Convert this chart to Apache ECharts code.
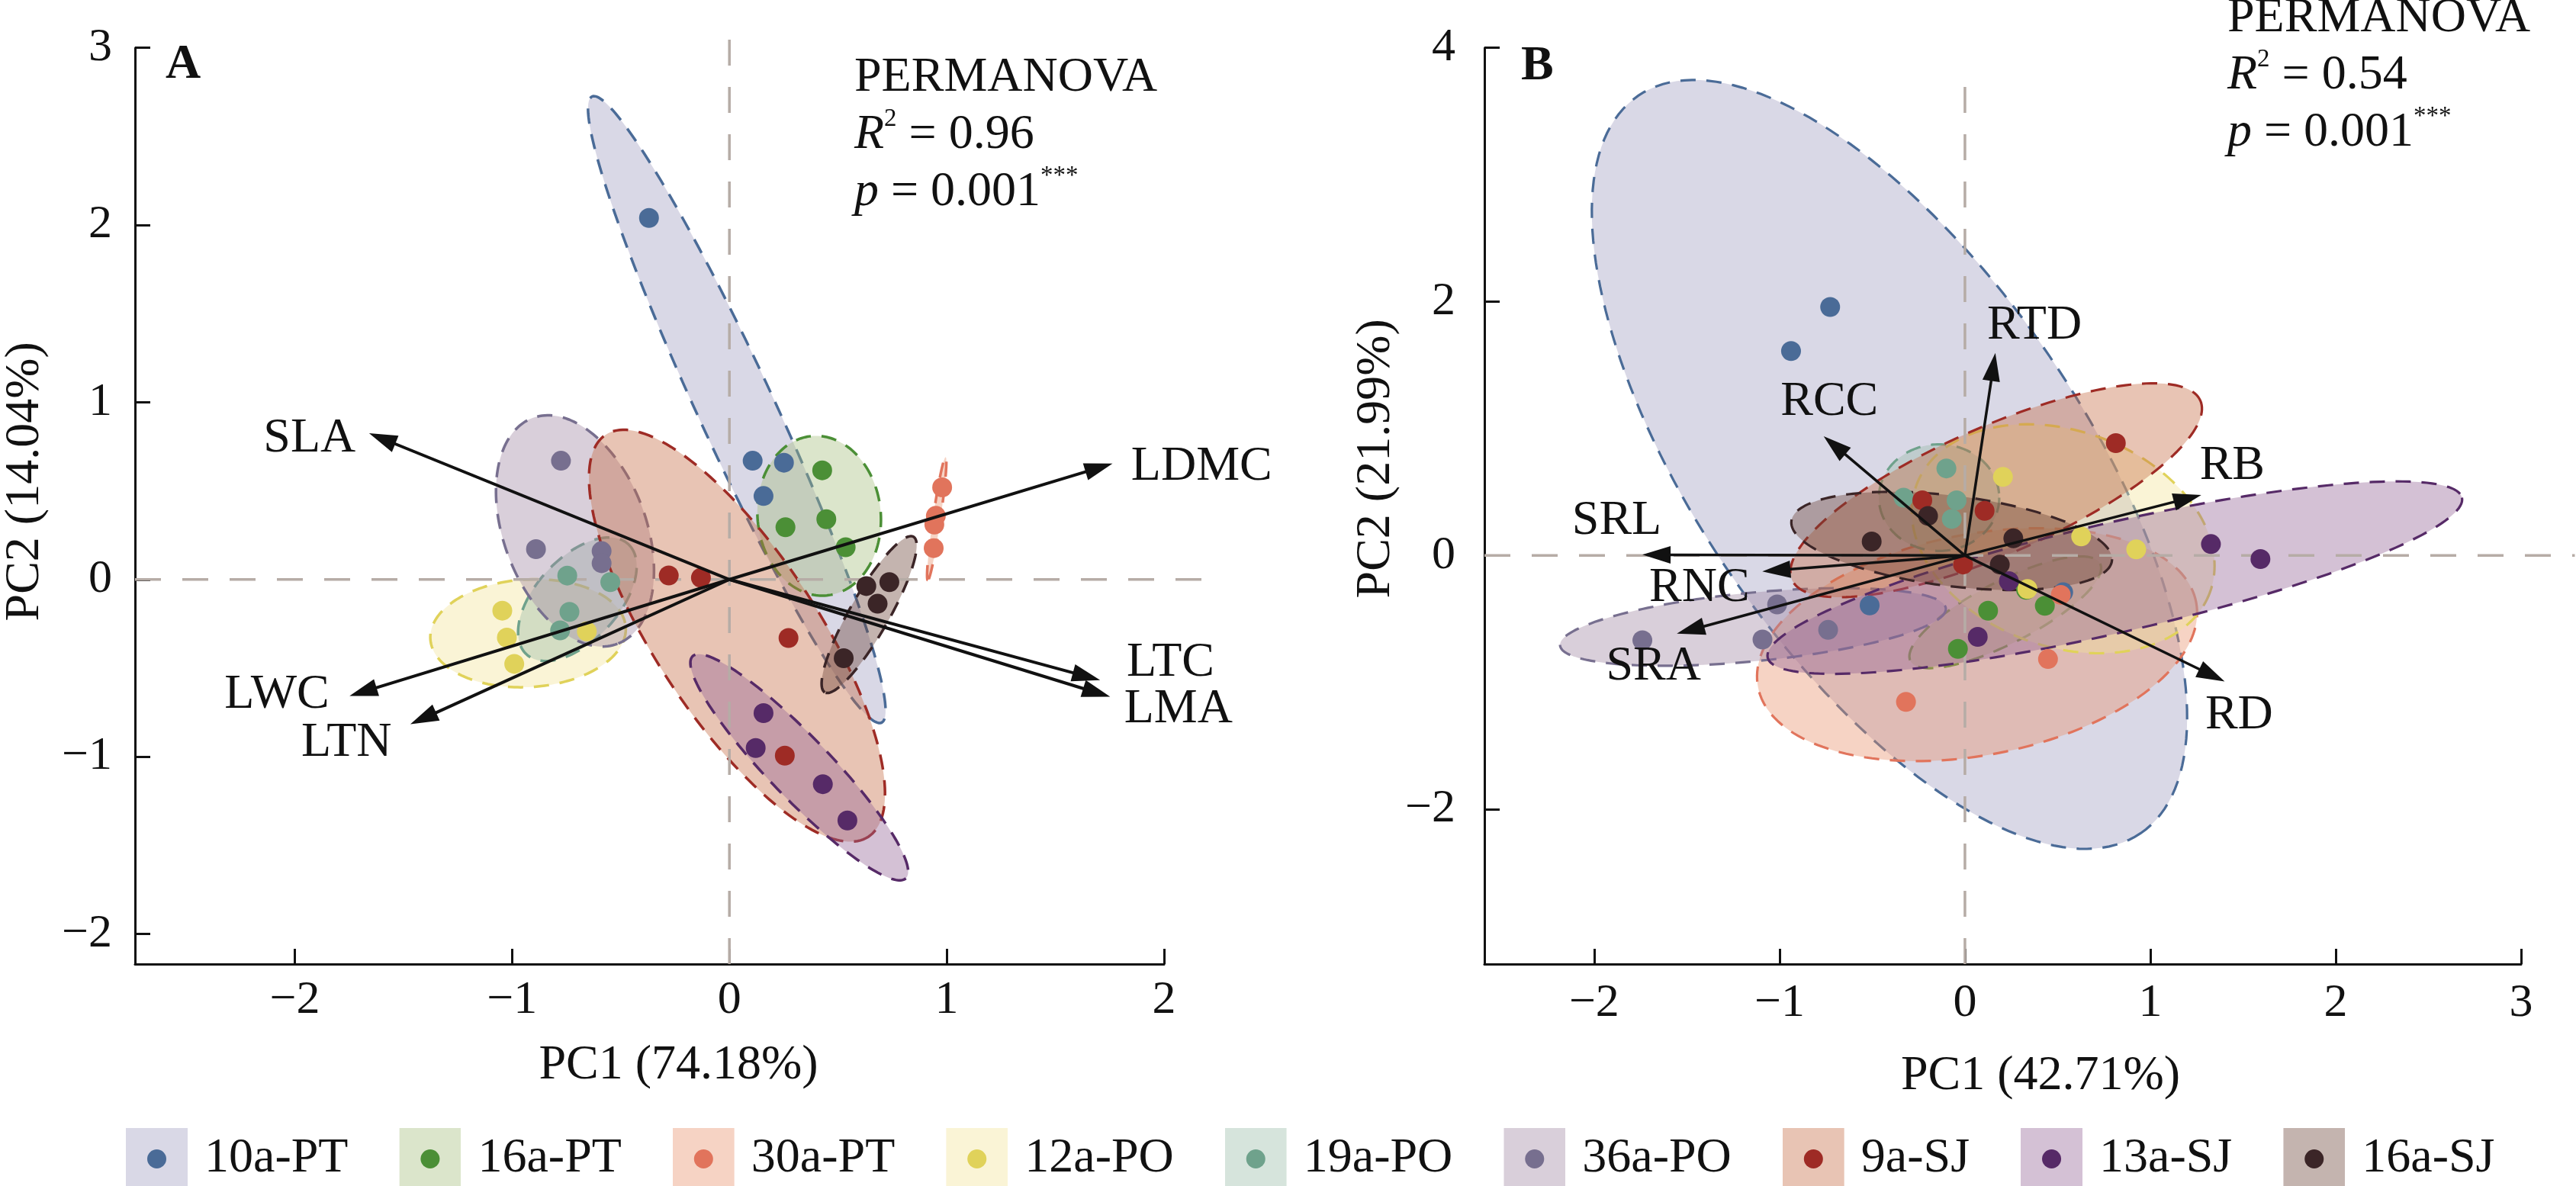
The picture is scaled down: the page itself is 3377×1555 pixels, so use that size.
<!DOCTYPE html>
<html>
<head>
<meta charset="utf-8">
<script src="https://cdn.jsdelivr.net/npm/echarts@6/dist/echarts.min.js"></script>
<style>
html, body { margin: 0; padding: 0; background: #fff; }
#main { width: 3377px; height: 1555px; }
</style>
</head>
<body>
<div id="main"></div>
<script>
// Groups (stand age - forest type)
var groups = ['10a-PT', '16a-PT', '30a-PT', '12a-PO', '19a-PO', '36a-PO', '9a-SJ', '13a-SJ', '16a-SJ'];

// Panel A scores: [PC1, PC2, group index]
var scoresA = [
    [-0.37, 2.04, 0], [0.107, 0.67, 0], [0.251, 0.659, 0], [0.157, 0.471, 0],
    [0.427, 0.616, 1], [0.446, 0.34, 1], [0.258, 0.295, 1], [0.535, 0.182, 1],
    [0.979, 0.52, 2], [0.95, 0.359, 2], [0.943, 0.31, 2], [0.94, 0.177, 2],
    [-1.045, -0.176, 3], [-1.024, -0.328, 3], [-0.99, -0.476, 3], [-0.656, -0.293, 3],
    [-0.746, 0.022, 4], [-0.548, -0.015, 4], [-0.736, -0.183, 4], [-0.779, -0.287, 4],
    [-0.775, 0.67, 5], [-0.89, 0.171, 5], [-0.588, 0.16, 5], [-0.588, 0.092, 5],
    [-0.279, 0.023, 6], [-0.131, 0.01, 6], [0.272, -0.33, 6], [0.255, -0.994, 6],
    [0.157, -0.754, 7], [0.121, -0.951, 7], [0.43, -1.155, 7], [0.543, -1.36, 7],
    [0.63, -0.037, 8], [0.736, -0.015, 8], [0.682, -0.137, 8], [0.526, -0.444, 8]
];

// Panel B scores: [PC1, PC2, group index]
var scoresB = [
    [-0.727, 1.958, 0], [-0.938, 1.611, 0], [-0.514, -0.393, 0], [0.53, -0.29, 0],
    [0.125, -0.435, 1], [-0.038, -0.736, 1], [0.431, -0.396, 1], [0.33, -0.27, 1],
    [-0.318, -1.153, 2], [0.448, -0.816, 2], [0.517, -0.31, 2],
    [0.205, 0.619, 3], [0.627, 0.15, 3], [0.924, 0.048, 3], [0.337, -0.264, 3],
    [-0.1, 0.686, 4], [-0.331, 0.456, 4], [-0.045, 0.435, 4], [-0.071, 0.288, 4],
    [-1.74, -0.668, 5], [-1.092, -0.662, 5], [-1.013, -0.386, 5], [-0.738, -0.586, 5],
    [-0.23, 0.435, 6], [0.106, 0.352, 6], [-0.01, -0.071, 6], [0.814, 0.885, 6],
    [1.327, 0.09, 7], [1.594, -0.028, 7], [0.237, -0.202, 7], [0.069, -0.641, 7],
    [-0.503, 0.11, 8], [-0.199, 0.312, 8], [0.261, 0.135, 8], [0.188, -0.071, 8]
];

// Confidence ellipses, one per group: [end1 PC1, end1 PC2, end2 PC1, end2 PC2, minor/major]
var ellipsesA = [
    [-0.632, 2.725, 0.70, -0.808, 0.11],
    [0.378, 0.809, 0.448, -0.09, 0.77],
    [0.995, 0.69, 0.913, -0.004, 0.06],
    [-1.376, -0.336, -0.477, -0.271, 0.55],
    [-0.934, -0.422, -0.465, 0.199, 0.55],
    [-0.906, 0.911, -0.515, -0.363, 0.59],
    [-0.569, 0.817, 0.639, -1.452, 0.34],
    [-0.169, -0.433, 0.812, -1.686, 0.2],
    [0.847, 0.241, 0.439, -0.637, 0.22]
];
var ellipsesB = [
    [-1.762, 3.623, 0.948, -2.188, 0.433],
    [-0.294, -0.831, 0.729, -0.064, 0.29],
    [-1.116, -1.038, 1.247, -0.367, 0.495],
    [-0.262, 0.553, 1.322, -0.289, 0.69],
    [-0.464, 0.456, 0.185, 0.456, 0.886],
    [-2.184, -0.709, -0.103, -0.417, 0.177],
    [-0.933, -0.192, 1.27, 1.22, 0.286],
    [-1.064, -0.805, 2.681, 0.456, 0.154],
    [-0.936, 0.272, 0.793, -0.042, 0.28]
];

// Trait loadings (arrow tips) and label anchors
var traitsA = ['SLA', 'LDMC', 'LTC', 'LMA', 'LWC', 'LTN'];
var loadXA = [-1.658, 1.763, 1.706, 1.752, -1.748, -1.468];
var loadYA = [0.825, 0.654, -0.568, -0.662, -0.657, -0.817];
var labelXA = [-1.932, 2.173, 2.03, 2.066, -2.082, -1.762];
var labelYA = [0.796, 0.637, -0.473, -0.732, -0.65, -0.921];

var traitsB = ['RTD', 'RCC', 'SRL', 'RNC', 'SRA', 'RB', 'RD'];
var loadXB = [0.164, -0.762, -1.74, -1.093, -1.554, 1.275, 1.401];
var loadYB = [1.596, 0.94, 0.006, -0.126, -0.616, 0.477, -0.993];
var labelXB = [0.375, -0.731, -1.878, -1.432, -1.68, 1.442, 1.479];
var labelYB = [1.81, 1.207, 0.273, -0.255, -0.877, 0.703, -1.261];

// Axis ticks
var ticksAx = [-2, -1, 0, 1, 2];
var ticksAy = [-2, -1, 0, 1, 2, 3];
var ticksBx = [-2, -1, 0, 1, 2, 3];
var ticksBy = [-2, 0, 2, 4];

// PERMANOVA results
var statsA = ['0.96', '0.001'];
var statsB = ['0.54', '0.001'];

// Colours
var pointColors = ['#4a6b97', '#4b8f36', '#e1745c', '#e0d25a', '#6fa28c', '#776f8f', '#9e2b25', '#562a67', '#3b2527'];
var keyColors = ['#d9d8e6', '#dbe5cb', '#f6d3c4', '#faf4d6', '#d6e4dc', '#d9cfda', '#e8c4b4', '#d4c1d5', '#c4b4af'];

var FONT = 'Liberation Serif';
var INK = '#111111';

function hexRgb(h) {
    return [parseInt(h.slice(1, 3), 16), parseInt(h.slice(3, 5), 16), parseInt(h.slice(5, 7), 16)];
}

// translucent fill that looks like the key colour on white
function veil(h, a) {
    var c = hexRgb(h).map(function (v) {
        return Math.max(0, Math.round(255 - (255 - v) / a));
    });
    return 'rgba(' + c.join(',') + ',' + a + ')';
}

function keyIcon(i) {
    var svg = '<svg xmlns="http://www.w3.org/2000/svg" width="81" height="81" viewBox="0 0 81 81">' +
        '<rect width="81" height="81" fill="' + keyColors[i] + '"/>' +
        '<circle cx="40.5" cy="40.5" r="12.5" fill="' + pointColors[i] + '"/></svg>';
    return 'image://data:image/svg+xml;charset=utf-8,' + encodeURIComponent(svg);
}

function fmtTick(v) {
    return v < 0 ? '\u2212' + Math.abs(v) : String(v);
}

function makeAxis(idx, min, max, ticks, margin, name, gap, pad) {
    return {
        type: 'value',
        gridIndex: idx,
        min: min,
        max: max,
        name: name,
        nameLocation: 'middle',
        nameGap: gap,
        nameTextStyle: { fontFamily: FONT, fontSize: 64, color: INK, padding: pad },
        axisLine: { show: true, onZero: false, lineStyle: { color: INK, width: 3 } },
        axisTick: { show: true, inside: true, length: 20, customValues: ticks, lineStyle: { color: INK, width: 3 } },
        axisLabel: {
            customValues: ticks,
            margin: margin,
            fontFamily: FONT,
            fontSize: 62,
            color: INK,
            formatter: fmtTick
        },
        splitLine: { show: false }
    };
}

function ellipseSeries(ells, axis, gi, lw) {
    return {
        type: 'custom',
        name: groups[gi],
        xAxisIndex: axis,
        yAxisIndex: axis,
        z: 2,
        silent: true,
        data: [ells[gi]],
        renderItem: function (params, api) {
            var p1 = api.coord([api.value(0), api.value(1)]);
            var p2 = api.coord([api.value(2), api.value(3)]);
            var r = api.value(4);
            var cx = (p1[0] + p2[0]) / 2, cy = (p1[1] + p2[1]) / 2;
            var dx = (p2[0] - p1[0]) / 2, dy = (p2[1] - p1[1]) / 2;
            var pts = [];
            for (var k = 0; k < 180; k++) {
                var t = 2 * Math.PI * k / 180;
                pts.push([cx + dx * Math.cos(t) - dy * r * Math.sin(t),
                          cy + dy * Math.cos(t) + dx * r * Math.sin(t)]);
            }
            return {
                type: 'polygon',
                shape: { points: pts },
                style: {
                    fill: veil(keyColors[gi], 0.4),
                    stroke: pointColors[gi],
                    lineWidth: lw,
                    lineDash: [20, 14]
                }
            };
        }
    };
}

function zeroLines(axis, xr, yr) {
    return {
        type: 'custom',
        xAxisIndex: axis,
        yAxisIndex: axis,
        z: 3,
        silent: true,
        clip: false,
        data: [[xr[0], xr[1], yr[0], yr[1]]],
        renderItem: function (params, api) {
            var h1 = api.coord([api.value(0), 0]), h2 = api.coord([api.value(1), 0]);
            var v1 = api.coord([0, api.value(2)]), v2 = api.coord([0, api.value(3)]);
            var st = { stroke: '#b6aca6', lineWidth: 3.5, lineDash: [34, 28] };
            return {
                type: 'group',
                children: [
                    { type: 'line', shape: { x1: h1[0], y1: h1[1], x2: h2[0], y2: h2[1] }, style: st },
                    { type: 'line', shape: { x1: v1[0], y1: v1[1], x2: v2[0], y2: v2[1] }, style: st }
                ]
            };
        }
    };
}

function pointSeries(scores, axis, gi) {
    return {
        type: 'scatter',
        name: groups[gi],
        xAxisIndex: axis,
        yAxisIndex: axis,
        z: 5,
        silent: true,
        symbol: 'circle',
        symbolSize: 26,
        itemStyle: { color: pointColors[gi], opacity: 1 },
        data: scores.filter(function (r) { return r[2] === gi; }).map(function (r) { return [r[0], r[1]]; })
    };
}

function arrowSeries(xs, ys, axis, lw) {
    return {
        type: 'custom',
        xAxisIndex: axis,
        yAxisIndex: axis,
        z: 6,
        silent: true,
        clip: false,
        data: xs.map(function (x, i) { return [x, ys[i]]; }),
        renderItem: function (params, api) {
            var o = api.coord([0, 0]);
            var t = api.coord([api.value(0), api.value(1)]);
            var dx = t[0] - o[0], dy = t[1] - o[1];
            var len = Math.sqrt(dx * dx + dy * dy);
            var ux = dx / len, uy = dy / len;
            var hl = 37, hw = 11.5;
            var bx = t[0] - ux * hl, by = t[1] - uy * hl;
            return {
                type: 'group',
                children: [
                    { type: 'line', shape: { x1: o[0], y1: o[1], x2: bx + ux * 6, y2: by + uy * 6 },
                      style: { stroke: INK, lineWidth: lw } },
                    { type: 'polygon',
                      shape: { points: [[t[0], t[1]], [bx - uy * hw, by + ux * hw], [bx + uy * hw, by - ux * hw]] },
                      style: { fill: INK } }
                ]
            };
        }
    };
}

function labelSeries(names, xs, ys, axis) {
    return {
        type: 'custom',
        xAxisIndex: axis,
        yAxisIndex: axis,
        z: 7,
        silent: true,
        clip: false,
        data: xs.map(function (x, i) { return [x, ys[i]]; }),
        renderItem: function (params, api) {
            var p = api.coord([api.value(0), api.value(1)]);
            return {
                type: 'text',
                x: p[0],
                y: p[1],
                style: {
                    text: names[params.dataIndex],
                    fill: INK,
                    font: '64px ' + FONT,
                    align: 'center',
                    verticalAlign: 'middle'
                }
            };
        }
    };
}

function statsText(x, y, s) {
    return {
        type: 'text',
        x: x,
        y: y,
        z: 10,
        style: {
            text: '{a|PERMANOVA}\n{i|R}{s|2}{a| = ' + s[0] + '}\n{i|p}{a| = ' + s[1] + '}{s|***}',
            fill: INK,
            align: 'left',
            verticalAlign: 'top',
            rich: {
                a: { fontFamily: FONT, fontSize: 64, lineHeight: 75, fill: INK },
                i: { fontFamily: FONT, fontSize: 64, lineHeight: 75, fontStyle: 'italic', fill: INK },
                s: { fontFamily: FONT, fontSize: 33, lineHeight: 56, verticalAlign: 'top', fill: INK }
            }
        }
    };
}

var series = [];
groups.forEach(function (g, gi) { series.push(ellipseSeries(ellipsesA, 0, gi, 3.5)); });
groups.forEach(function (g, gi) { series.push(ellipseSeries(ellipsesB, 1, gi, 3.2)); });
series.push(zeroLines(0, [-2.735, 2.237], [-2.17, 3.134]));
series.push(zeroLines(1, [-2.592, 3.29], [-3.219, 3.8]));
groups.forEach(function (g, gi) { series.push(pointSeries(scoresA, 0, gi)); });
groups.forEach(function (g, gi) { series.push(pointSeries(scoresB, 1, gi)); });
series.push(arrowSeries(loadXA, loadYA, 0, 4));
series.push(arrowSeries(loadXB, loadYB, 1, 3.5));
series.push(labelSeries(traitsA, labelXA, labelYA, 0));
series.push(labelSeries(traitsB, labelXB, labelYB, 1));

var chart = echarts.init(document.getElementById('main'));

var option = {
    animation: false,
    backgroundColor: '#ffffff',
    textStyle: { fontFamily: FONT },
    grid: [
        { left: 171, top: 62.7, width: 1355, height: 1201.3 },
        { left: 1946, top: 62.7, width: 1359, height: 1201.3 }
    ],
    xAxis: [
        makeAxis(0, -2.735, 2, ticksAx, 17, 'PC1 (74.18%)', 101, [0, 0, 0, 76]),
        makeAxis(1, -2.592, 3, ticksBx, 21, 'PC1 (42.71%)', 115, [0, 0, 0, 99])
    ],
    yAxis: [
        makeAxis(0, -2.17, 3, ticksAy, 30, 'PC2 (14.04%)', 112, [0, 0, 0, 64]),
        makeAxis(1, -3.219, 4, ticksBy, 38, 'PC2 (21.99%)', 110, [0, 0, 0, 124])
    ],
    legend: {
        left: 160,
        top: 1474,
        itemWidth: 81,
        itemHeight: 81,
        itemGap: 67,
        selectedMode: false,
        textStyle: { fontFamily: FONT, fontSize: 64, color: INK, padding: [0, 0, 0, 17] },
        data: groups.map(function (g, i) { return { name: g, icon: keyIcon(i) }; })
    },
    graphic: [
        { type: 'text', x: 217, y: 53, z: 10,
          style: { text: 'A', fill: INK, font: 'bold 64px ' + FONT, verticalAlign: 'top' } },
        { type: 'text', x: 1994, y: 55, z: 10,
          style: { text: 'B', fill: INK, font: 'bold 64px ' + FONT, verticalAlign: 'top' } },
        statsText(1120, 65, statsA),
        statsText(2920, -13, statsB)
    ],
    series: series
};

chart.setOption(option);
</script>
</body>
</html>
